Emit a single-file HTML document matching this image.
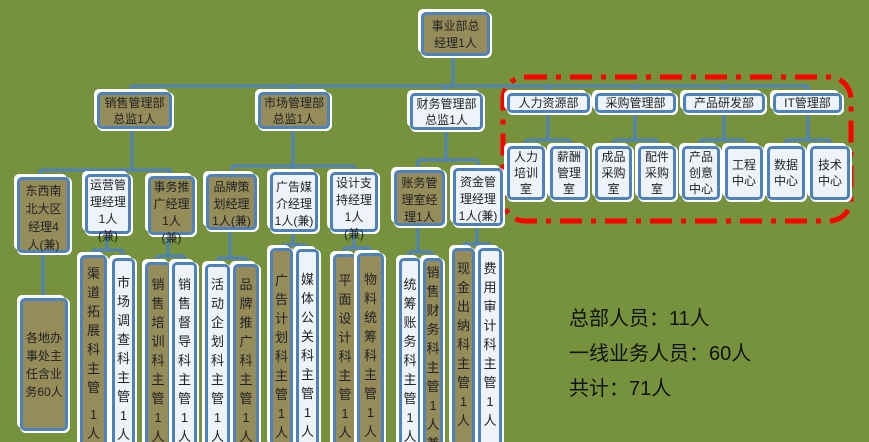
<!DOCTYPE html>
<html style="overflow:hidden;height:442px"><head><meta charset="utf-8"><style>
html,body{margin:0;width:869px;height:442px;overflow:hidden}
body{background:#76923c;position:relative;font-family:"Liberation Sans","Noto Sans CJK SC",sans-serif}
.b{position:absolute;box-sizing:border-box;border:3px solid #4f81bd;border-radius:5px;box-shadow:-3px -3px 0 0 #fff,1px 1px 0 1px #fff;text-align:center;color:#222;font-size:12px;line-height:16px;overflow:visible}
.t{background:#958c5a}.l{background:#eef2f9}
.v{font-size:13px;line-height:19px;padding-top:6px;word-break:break-all}
.v span{display:block;width:14px;margin:0 auto}
svg{position:absolute;left:0;top:0}
.s{position:absolute;left:569px;font-size:20px;color:#111;line-height:24px}
</style></head><body>
<svg width="869" height="442">
<g stroke="#4f81bd" stroke-width="3" fill="none">
<path d="M453 56V86M130 86H808M132 86V94M293 86V94M446 86V94M548 86V95M635 86V95M724 86V95M808 86V95"/>
<path d="M132 128V170M40 170H172M40 170V177M108 170V174M170 170V178"/>
<path d="M293 128V166M232 166H355M232 166V176M293 166V174M355 166V174"/>
<path d="M446 130V160M418 160H478M418 160V172M478 160V170"/>
<path d="M548 112V140M526 140H570M526 140V147M570 140V147"/>
<path d="M635 112V140M614 140H657M614 140V147M657 140V147"/>
<path d="M724 112V140M700 140H744M700 140V147M744 140V147"/>
<path d="M808 112V140M786 140H830M786 140V147M830 140V147"/>
<path d="M43 252V298"/>
<path d="M107 234V250M93 250H123M93 250V256M123 250V258"/>
<path d="M168 235V256M157 256H184M157 256V262M184 256V262"/>
<path d="M230 230V258M218 258H246M218 258V264M246 258V264"/>
<path d="M293 232V245M281 245H306M281 245V249M306 245V250"/>
<path d="M354 232V248M344 248H370M344 248V255M370 248V254"/>
<path d="M418 225V252M409 252H432M409 252V259M432 252V259"/>
<path d="M477 226V244M463 244H490M463 244V249M490 244V249"/>
</g>
<rect x="503" y="77" width="348" height="144" rx="22" fill="none" stroke="#f00" stroke-width="5" stroke-dasharray="22 9 5 9"/>
</svg>

<div class="b t" style="left:421px;top:12px;width:69px;height:44px;padding-top:3px;line-height:17px">事业部总<br>经理1人</div>

<div class="b t" style="left:97px;top:92px;width:75px;height:37px">销售管理部<br>总监1人</div>
<div class="b t" style="left:258px;top:92px;width:72px;height:37px">市场管理部<br>总监1人</div>
<div class="b l" style="left:410px;top:93px;width:73px;height:37px">财务管理部<br>总监1人</div>
<div class="b l" style="left:507px;top:93px;width:83px;height:20px;line-height:14px">人力资源部</div>
<div class="b l" style="left:595px;top:93px;width:81px;height:20px;line-height:14px">采购管理部</div>
<div class="b l" style="left:683px;top:93px;width:82px;height:20px;line-height:14px">产品研发部</div>
<div class="b l" style="left:773px;top:93px;width:69px;height:20px;line-height:14px">IT管理部</div>

<div class="b t" style="left:17px;top:177px;width:53px;height:76px;padding-top:2px;line-height:18px">东西南<br>北大区<br>经理4<br>人(兼)</div>
<div class="b l" style="left:85px;top:174px;width:46px;height:60px;line-height:17px;padding-top:0">运营管<br>理经理<br>1人<br>(兼)</div>
<div class="b t" style="left:148px;top:176px;width:47px;height:59px;line-height:17px">事务推<br>广经理<br>1人<br>(兼)</div>
<div class="b t" style="left:206px;top:174px;width:51px;height:56px;line-height:17px;padding-top:2px">品牌策<br>划经理<br>1人(兼)</div>
<div class="b l" style="left:270px;top:172px;width:48px;height:60px;line-height:17px;padding-top:4px">广告媒<br>介经理<br>1人(兼)</div>
<div class="b l" style="left:330px;top:172px;width:48px;height:60px;line-height:17px;padding-top:0">设计支<br>持经理<br>1人<br>(兼)</div>
<div class="b t" style="left:394px;top:170px;width:51px;height:56px;line-height:17px;padding-top:2px">账务管<br>理室经<br>理1人</div>
<div class="b l" style="left:453px;top:168px;width:50px;height:58px;line-height:17px;padding-top:3px">资金管<br>理经理<br>1人(兼)</div>

<div class="b l" style="left:507px;top:146px;width:38px;height:54px;padding-top:0">人力<br>培训<br>室</div>
<div class="b l" style="left:550px;top:146px;width:38px;height:54px;padding-top:0">薪酬<br>管理<br>室</div>
<div class="b l" style="left:595px;top:146px;width:37px;height:54px;padding-top:0">成品<br>采购<br>室</div>
<div class="b l" style="left:638px;top:146px;width:38px;height:54px;padding-top:0">配件<br>采购<br>室</div>
<div class="b l" style="left:682px;top:146px;width:38px;height:54px;padding-top:0">产品<br>创意<br>中心</div>
<div class="b l" style="left:725px;top:146px;width:38px;height:54px;padding-top:8px">工程<br>中心</div>
<div class="b l" style="left:767px;top:146px;width:38px;height:54px;padding-top:8px">数据<br>中心</div>
<div class="b l" style="left:810px;top:146px;width:40px;height:54px;padding-top:8px">技术<br>中心</div>

<div class="b t" style="left:20px;top:298px;width:48px;height:133px;padding-top:28px;font-size:12px;line-height:18px">各地办<br>事处主<br>任含业<br>务60人</div>

<div class="b t v" style="left:80px;top:255px;width:27px;height:200px"><span>渠道拓展科主管</span><span style="margin-top:8px">1<br>人</span></div>
<div class="b l v" style="left:112px;top:258px;width:23px;height:200px;padding-top:12px"><span>市场调查科主管1人</span></div>
<div class="b t v" style="left:145px;top:262px;width:26px;height:200px;padding-top:10px"><span>销售培训科主管1人</span></div>
<div class="b l v" style="left:172px;top:262px;width:25px;height:200px;padding-top:10px"><span>销售督导科主管1人</span></div>
<div class="b l v" style="left:205px;top:264px;width:25px;height:200px;padding-top:8px"><span>活动企划科主管1人</span></div>
<div class="b t v" style="left:233px;top:264px;width:26px;height:200px;padding-top:8px"><span>品牌推广科主管1人</span></div>
<div class="b t v" style="left:270px;top:248px;width:23px;height:200px;padding-top:20px"><span>广告计划科主管1人</span></div>
<div class="b l v" style="left:296px;top:249px;width:23px;height:200px;padding-top:18px"><span>媒体公关科主管1人</span></div>
<div class="b t v" style="left:333px;top:254px;width:24px;height:200px;padding-top:14px"><span>平面设计科主管1人</span></div>
<div class="b t v" style="left:357px;top:253px;width:27px;height:200px;padding-top:14px"><span>物料统筹科主管1人</span></div>
<div class="b l v" style="left:399px;top:258px;width:22px;height:200px;padding-top:14px"><span>统筹账务科主管1人</span></div>
<div class="b t v" style="left:423px;top:258px;width:20px;height:200px;padding-top:2px"><span>销售财务科主管1人兼</span></div>
<div class="b t v" style="left:452px;top:248px;width:23px;height:200px;padding-top:8px"><span>现金出纳科主管1人</span></div>
<div class="b l v" style="left:478px;top:248px;width:24px;height:200px;padding-top:8px"><span>费用审计科主管1人</span></div>

<div class="s" style="top:307px">总部人员：11人</div>
<div class="s" style="top:342px">一线业务人员：60人</div>
<div class="s" style="top:377px">共计：71人</div>
</body></html>
